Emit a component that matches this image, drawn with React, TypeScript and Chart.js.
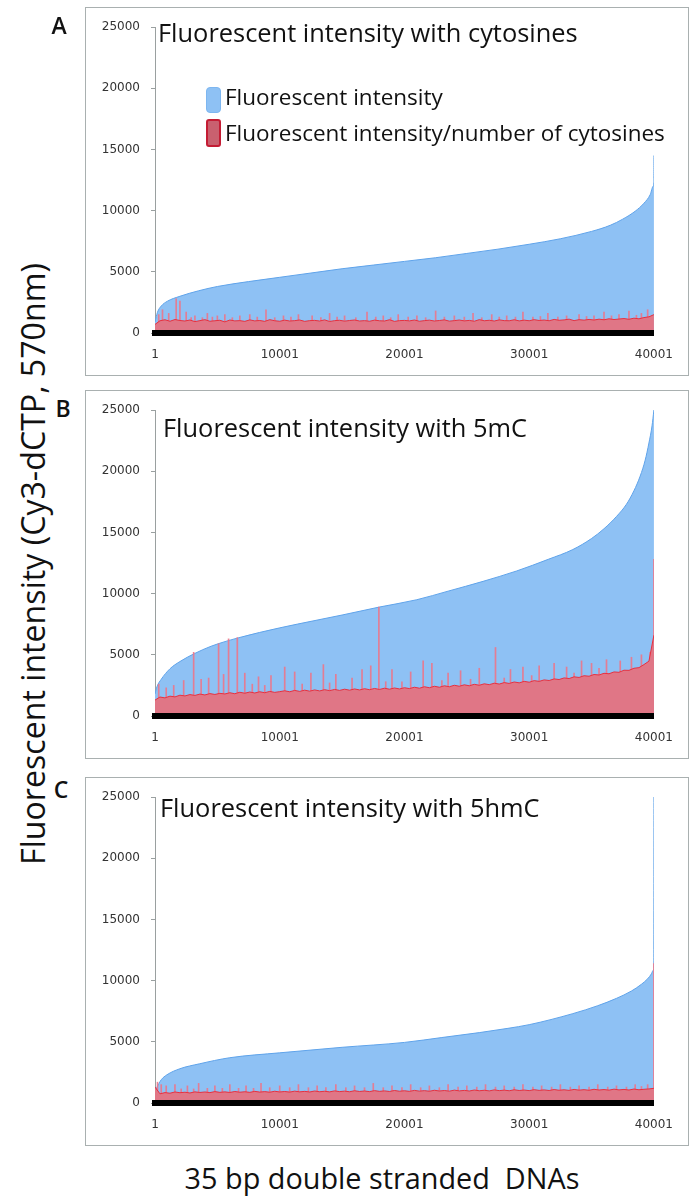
import React, { useEffect, useRef } from "react";
import { Chart, registerables } from "chart.js";
Chart.register(...registerables);

// ---------------- Data ----------------
const xTickValues = [1, 10001, 20001, 30001, 40001];
const xTickLabels = ["1", "10001", "20001", "30001", "40001"];
const yTickValues = [0, 5000, 10000, 15000, 20000, 25000];
const yTickLabels = ["0", "5000", "10000", "15000", "20000", "25000"];

const panelLetters = ["A", "B", "C"];
const panelTitles = [
  "Fluorescent intensity with cytosines",
  "Fluorescent intensity with 5mC",
  "Fluorescent intensity with 5hmC",
];
const legendLabels = ["Fluorescent intensity", "Fluorescent intensity/number of cytosines"];
const yAxisTitle = "Fluorescent intensity (Cy3-dCTP, 570nm)";
const xAxisTitle = "35 bp double stranded  DNAs";

// sorted fluorescent intensity (blue), read at selected DNA ranks
const blueAX = [1, 200, 500, 1000, 2000, 3500, 5000, 7500, 10001, 12500, 15000, 17500, 20001, 22500, 25000, 27500, 30001, 32500, 35000, 36500, 37500, 38500, 39200, 39700, 39950, 40000, 40001];
const blueAY = [900, 1700, 2200, 2600, 3000, 3450, 3800, 4200, 4550, 4900, 5250, 5550, 5850, 6150, 6500, 6850, 7250, 7700, 8300, 8800, 9300, 9950, 10600, 11300, 12000, 12400, 14500];

const blueBX = [1, 160, 500, 1190, 2000, 3170, 4500, 6730, 10001, 12830, 15000, 17980, 20990, 23500, 26300, 29000, 31530, 33500, 35000, 36000, 37000, 37800, 38400, 38900, 39300, 39600, 39850, 40001];
const blueBY = [1800, 2400, 3000, 3850, 4450, 5100, 5700, 6400, 7200, 7800, 8250, 8900, 9500, 10200, 11000, 11850, 12800, 13600, 14500, 15300, 16300, 17300, 18400, 19600, 20900, 22300, 23700, 25000];

const blueCX = [1, 160, 500, 950, 2000, 3560, 6000, 10001, 15000, 20001, 23000, 26000, 28300, 30001, 33500, 35500, 37000, 38200, 39000, 39500, 39800, 39950, 40000, 40001];
const blueCY = [1000, 1300, 1900, 2300, 2800, 3200, 3700, 4100, 4550, 4950, 5350, 5750, 6100, 6400, 7300, 7950, 8550, 9150, 9700, 10150, 10550, 10850, 11000, 25000];

// intensity / number of cytosines (red), read every 400 ranks starting at rank 1
const sampleStep = 400;
const redA = [700, 1000, 1080, 960, 1100, 1020, 980, 1060, 930, 1010,
  1090, 960, 1000, 1040, 910, 1060, 990, 1010, 950, 1070,
  990, 1020, 950, 1090, 1000, 960, 1050, 980, 1010, 1060,
  950, 1010, 1030, 980, 1070, 940, 1010, 1040, 970, 1020,
  1060, 980, 1010, 960, 1050, 1000, 980, 1080, 950, 1010,
  1030, 990, 1060, 960, 1010, 1050, 980, 1020, 1070, 970,
  1010, 1060, 990, 1030, 960, 1090, 1000, 1040, 980, 1070,
  1010, 1000, 1080, 990, 1050, 1000, 1090, 1020, 1060, 1000,
  1110, 1040, 1070, 1130, 1010, 1090, 1050, 1110, 1060, 1130,
  1080, 1160, 1100, 1140, 1180, 1120, 1210, 1160, 1260, 1320, 1500];
const redB = [1300, 1550, 1480, 1620, 1560, 1700, 1640, 1750, 1680, 1790,
  1720, 1830, 1760, 1850, 1800, 1900, 1820, 1940, 1860, 1960,
  1880, 1980, 1900, 2010, 1930, 1990, 2060, 1980, 2090, 2010,
  2110, 2030, 2130, 2050, 2150, 2070, 2170, 2090, 2190, 2110,
  2210, 2130, 2230, 2150, 2250, 2170, 2270, 2190, 2290, 2210,
  2310, 2240, 2350, 2270, 2390, 2310, 2430, 2350, 2470, 2390,
  2510, 2430, 2550, 2470, 2590, 2510, 2630, 2560, 2680, 2610,
  2730, 2660, 2780, 2710, 2830, 2760, 2890, 2830, 2950, 2900,
  3030, 2980, 3110, 3060, 3200, 3150, 3290, 3250, 3390, 3350,
  3490, 3450, 3600, 3570, 3740, 3730, 3900, 3950, 4200, 4480, 6600];
const redC = [1300, 750, 850, 800, 900, 840, 880, 820, 910, 860,
  900, 850, 930, 870, 910, 860, 940, 880, 920, 870,
  950, 890, 930, 880, 960, 900, 940, 890, 970, 910,
  950, 900, 980, 920, 960, 910, 990, 930, 970, 920,
  1000, 940, 980, 930, 1010, 950, 990, 940, 1020, 960,
  1000, 950, 1030, 970, 1010, 960, 1040, 980, 1020, 970,
  1050, 990, 1030, 980, 1060, 1000, 1040, 990, 1070, 1010,
  1050, 1000, 1080, 1020, 1060, 1010, 1090, 1030, 1070, 1020,
  1100, 1040, 1080, 1030, 1110, 1050, 1090, 1040, 1120, 1060,
  1100, 1050, 1130, 1070, 1110, 1060, 1140, 1080, 1120, 1150, 1200];

// single-DNA outliers of the red series: [rank, value]
const spikesA = [[300, 1500], [600, 1900], [1100, 1600], [1700, 2800], [2000, 2600], [2500, 1700], [2900, 1250], [3200, 1400], [3800, 1250], [4200, 1600], [4600, 1300], [5000, 1400], [5600, 1500], [6200, 1250], [6800, 1400], [7600, 1500], [8200, 1300], [8900, 1900], [9600, 1250], [10300, 1400], [10900, 1300], [11500, 1500], [12600, 1400], [13300, 1250], [14000, 1600], [14600, 1300], [15200, 1400], [16100, 1250], [17000, 1700], [17700, 1300], [18300, 1400], [18900, 1250], [19500, 1500], [20300, 1300], [21000, 1400], [21700, 1250], [22500, 1800], [23200, 1300], [24000, 1400], [24800, 1300], [25500, 1600], [26200, 1250], [27000, 1500], [27600, 1300], [28200, 1400], [28900, 1300], [29500, 1700], [30300, 1300], [30900, 1350], [31500, 1600], [32300, 1300], [33000, 1400], [34000, 1500], [34600, 1350], [35200, 1400], [36000, 1700], [36600, 1400], [37200, 1500], [38000, 1800], [38600, 1450], [39000, 1600], [39500, 1900]];
const spikesB = [[300, 2600], [900, 2300], [1500, 2500], [2300, 2900], [3100, 5200], [3700, 3000], [4300, 3100], [5100, 5900], [5500, 3400], [5900, 6300], [6600, 6400], [7200, 3500], [7800, 2600], [8300, 3200], [8800, 2500], [9300, 3300], [10400, 4000], [11200, 3600], [11800, 2600], [12500, 3500], [13500, 4200], [14000, 2700], [14500, 3400], [15800, 3100], [16600, 3800], [17300, 4100], [17950, 8900], [18500, 2800], [19000, 3800], [19800, 2800], [20500, 3600], [21500, 4500], [22200, 4300], [23000, 2900], [23500, 3500], [24500, 3700], [25300, 3000], [26000, 3900], [27300, 5600], [28000, 3100], [28500, 3800], [29500, 4000], [30200, 3300], [30800, 4100], [32000, 4300], [33000, 4000], [33600, 3500], [34200, 4500], [35000, 4300], [35600, 3900], [36200, 4600], [37300, 4500], [38200, 4800], [39000, 5000], [39700, 5200], [40001, 12800]];
const spikesC = [[200, 1700], [500, 1500], [900, 1400], [1600, 1500], [2100, 1150], [2600, 1400], [3100, 1150], [3500, 1600], [4200, 1200], [4800, 1400], [5400, 1200], [6000, 1500], [6700, 1200], [7300, 1400], [7900, 1200], [8500, 1600], [9200, 1250], [10000, 1400], [10800, 1250], [11500, 1500], [12300, 1250], [13000, 1400], [13700, 1250], [14500, 1500], [15300, 1250], [16000, 1400], [16800, 1250], [17500, 1600], [18300, 1250], [19000, 1400], [19800, 1250], [20500, 1500], [21300, 1250], [22000, 1400], [22800, 1250], [23500, 1500], [24300, 1300], [25000, 1400], [25800, 1300], [26500, 1500], [27300, 1300], [28000, 1400], [28800, 1300], [29500, 1500], [30300, 1300], [31000, 1400], [31800, 1300], [32500, 1500], [33300, 1300], [34000, 1400], [34800, 1300], [35500, 1500], [36300, 1300], [37000, 1400], [37800, 1300], [38500, 1500], [39000, 1350], [39500, 1500], [40001, 11400]];

// ---------------- Layout helpers ----------------
const FAMILY = '"Open Sans", sans-serif';
let measureCtx: CanvasRenderingContext2D | null = null;
function fitSize(text: string, weight: string, target: number): number {
  if (!measureCtx) measureCtx = document.createElement("canvas").getContext("2d");
  if (!measureCtx) return 20;
  measureCtx.font = `${weight} 100px ${FAMILY}`;
  const w = measureCtx.measureText(text).width;
  return (100 * target) / w;
}

const BLUE_FILL = "#8ec1f4";
const BLUE_LINE = "#5fa3ea";
const RED_FILL = "#e07686";
const RED_LINE = "#e8303f";
const SPIKE = "rgba(236,118,138,0.9)";

type PanelProps = {
  top: number;
  blueX: number[];
  blueY: number[];
  red: number[];
  spikes: number[][];
};

function Panel({ top, blueX, blueY, red, spikes }: PanelProps) {
  const ref = useRef<HTMLCanvasElement | null>(null);
  useEffect(() => {
    if (!ref.current) return;
    const blueData = blueX.map((x, i) => ({ x, y: blueY[i] }));
    const redData = red.map((y, i) => ({ x: 1 + i * sampleStep, y }));
    const spikeData = spikes.map(([x, y]) => ({ x, y }));
    const tickFont = { family: '"DejaVu Sans", sans-serif', size: 12 };
    const chart = new Chart(ref.current, {
      type: "line",
      data: {
        datasets: [
          {
            type: "line",
            data: redData,
            order: 0,
            borderColor: RED_LINE,
            borderWidth: 1,
            backgroundColor: RED_FILL,
            fill: "origin",
            pointRadius: 0,
            tension: 0,
          },
          {
            type: "bar",
            data: spikeData,
            order: 1,
            backgroundColor: SPIKE,
            barThickness: 1,
            borderWidth: 0,
          },
          {
            type: "line",
            data: blueData,
            order: 2,
            borderColor: BLUE_LINE,
            borderWidth: 1,
            backgroundColor: BLUE_FILL,
            fill: "origin",
            pointRadius: 0,
            cubicInterpolationMode: "monotone",
          },
        ],
      } as any,
      options: {
        animation: false,
        responsive: false,
        maintainAspectRatio: false,
        devicePixelRatio: 1,
        layout: { padding: { top: 19, right: 27, left: 0, bottom: 0 } },
        plugins: { legend: { display: false }, tooltip: { enabled: false }, title: { display: false } },
        scales: {
          x: {
            type: "linear",
            min: 1,
            max: 40001,
            offset: false,
            afterBuildTicks: (s: any) => {
              s.ticks = xTickValues.map((v) => ({ value: v }));
            },
            afterFit: (s: any) => {
              s.height = 42;
            },
            grid: { display: true, drawOnChartArea: false, drawTicks: false, color: "rgba(0,0,0,0)" },
            border: { display: true, color: "#000", width: 6, z: 1 },
            ticks: {
              padding: 15,
              autoSkip: false,
              maxRotation: 0,
              color: "#333",
              font: tickFont,
              callback: (v: any) => {
                const i = xTickValues.indexOf(Number(v));
                return i >= 0 ? xTickLabels[i] : "";
              },
            },
          },
          y: {
            type: "linear",
            min: 0,
            max: 25000,
            afterBuildTicks: (s: any) => {
              s.ticks = yTickValues.map((v) => ({ value: v }));
            },
            afterFit: (s: any) => {
              s.width = 69;
            },
            grid: { display: true, drawOnChartArea: false, drawTicks: true, tickLength: 4, color: "#9aa0a0" },
            border: { display: true, color: "#9aa0a0", width: 1 },
            ticks: {
              padding: 11,
              color: "#333",
              font: tickFont,
              callback: (v: any) => {
                const i = yTickValues.indexOf(Number(v));
                return i >= 0 ? yTickLabels[i] : "";
              },
            },
          },
        },
      } as any,
    });
    return () => chart.destroy();
  }, [blueX, blueY, red, spikes]);

  return (
    <div
      style={{
        position: "absolute",
        left: 85,
        top,
        width: 604,
        height: 369,
        border: "1px solid #a9b0b0",
        boxSizing: "border-box",
      }}
    >
      <canvas ref={ref} width={602} height={367} style={{ display: "block", width: 602, height: 367 }} />
    </div>
  );
}

function Text({ text, x, y, size, weight = "normal", anchor = "left", rotate = 0 }: any) {
  const tx = anchor === "center" ? "-50%" : "0";
  return (
    <div
      style={{
        position: "absolute",
        left: x,
        top: y,
        transform: `translate(${tx}, -50%) rotate(${rotate}deg)`,
        fontFamily: FAMILY,
        fontSize: size,
        fontWeight: weight as any,
        lineHeight: 1,
        whiteSpace: "pre",
        color: "#111",
      }}
    >
      {text}
    </div>
  );
}

const panelTops = [7, 390, 777];
const titlePos = [
  [158, 33],
  [163, 428],
  [160, 808],
];
const letterPos = [
  [59, 25],
  [63, 408],
  [61, 789],
];

export default function App() {
  const titleSize = fitSize(panelTitles[0], "normal", 420);
  const legendSize = fitSize(legendLabels[1], "normal", 440);
  const yTitleSize = fitSize(yAxisTitle, "normal", 602);
  const xTitleSize = fitSize(xAxisTitle, "normal", 395);
  const series = [
    { bx: blueAX, by: blueAY, red: redA, spikes: spikesA },
    { bx: blueBX, by: blueBY, red: redB, spikes: spikesB },
    { bx: blueCX, by: blueCY, red: redC, spikes: spikesC },
  ];
  return (
    <div
      style={{
        position: "absolute",
        left: 0,
        top: 0,
        width: 691,
        height: 1197,
        background: "#fff",
        overflow: "hidden",
      }}
    >
      {series.map((s, i) => (
        <Panel key={i} top={panelTops[i]} blueX={s.bx} blueY={s.by} red={s.red} spikes={s.spikes} />
      ))}
      {panelTitles.map((t, i) => (
        <Text key={"t" + i} text={t} x={titlePos[i][0]} y={titlePos[i][1]} size={titleSize} />
      ))}
      {panelLetters.map((t, i) => (
        <Text key={"l" + i} text={t} x={letterPos[i][0]} y={letterPos[i][1]} size={23} weight="600" anchor="center" />
      ))}
      {/* legend */}
      <div
        style={{
          position: "absolute",
          left: 206,
          top: 87,
          width: 15,
          height: 26,
          borderRadius: 4,
          background: BLUE_FILL,
          boxSizing: "border-box",
          border: "1px solid #7db6f0",
        }}
      />
      <div
        style={{
          position: "absolute",
          left: 206,
          top: 119,
          width: 15,
          height: 28,
          borderRadius: 3,
          background: "#c9606f",
          boxSizing: "border-box",
          border: "2px solid #c41c34",
        }}
      />
      <Text text={legendLabels[0]} x={225} y={97} size={legendSize} />
      <Text text={legendLabels[1]} x={225} y={133} size={legendSize} />
      {/* axis titles */}
      <Text text={yAxisTitle} x={33} y={564} size={yTitleSize} anchor="center" rotate={-90} />
      <Text text={xAxisTitle} x={382} y={1178} size={xTitleSize} anchor="center" />
    </div>
  );
}
